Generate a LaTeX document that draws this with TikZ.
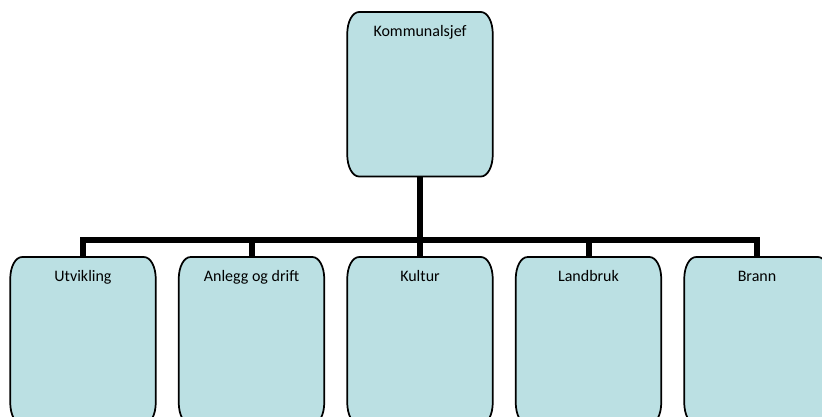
\documentclass[tikz,border=0pt]{standalone}
\usepackage{fontspec}
\setmainfont{Carlito}
\usetikzlibrary{calc}
\pgfdeclarelayer{background}
\pgfsetlayers{background,main}
\newdimen\px
\px=0.75pt
\definecolor{boxfill}{RGB}{187,224,227}
\tikzset{
  unitbox/.style={anchor=north, minimum width=145\px, inner xsep=0pt,
    inner ysep=12\px, text height=12\px, font=\fontsize{12}{14}\selectfont},
  topbox/.style={unitbox, text depth=128\px},
  subbox/.style={unitbox, text depth=131\px},
  boxshape/.style={fill=boxfill, draw=black, line width=1.3pt},
  conn/.style={line width=4.5pt}
}
\begin{document}
\begin{tikzpicture}[x=0.75pt, y=-0.75pt]
                \useasboundingbox (0,0) rectangle (822,417);
                
                % Drawing the top unit
                \node [topbox] (sjef) at (420,12) {Kommunalsjef};
                
                % Drawing the sub units
                \foreach \n/\x/\t in {utv/83/Utvikling, anl/251.5/Anlegg og drift,
                  kul/420/Kultur, land/588.5/Landbruk, brann/757/Brann}
                  \node [subbox] (\n) at (\x,257) {\t};
                
                % Marking the bus line
                \coordinate (bus) at (420,240);
                
                % Drawing the box outlines behind the texts
                \begin{pgfonlayer}{background}
                \foreach \n in {sjef,utv,anl,kul,land,brann}
                  \path [boxshape]
                    ($(\n.north west)+(0,22)$) .. controls +(0,-12) and +(-7,0) .. ($(\n.north west)+(12,0)$)
                    -- ($(\n.north east)+(-12,0)$) .. controls +(7,0) and +(0,-12) .. ($(\n.north east)+(0,22)$)
                    -- ($(\n.south east)+(0,-22)$) .. controls +(0,12) and +(7,0) .. ($(\n.south east)+(-12,0)$)
                    -- ($(\n.south west)+(12,0)$) .. controls +(-7,0) and +(0,12) .. ($(\n.south west)+(0,-22)$)
                    -- cycle;%
                \end{pgfonlayer}
                
                % Drawing the connectors
                \draw [conn] (sjef.south) -- (sjef.south |- bus);%
                \draw [conn] (utv.north) -- (utv.north |- bus) -- (brann.north |- bus) -- (brann.north);%
                \foreach \n in {anl,kul,land}
                  \draw [conn] (\n.north |- bus) -- (\n.north);%
\end{tikzpicture}
\end{document}
